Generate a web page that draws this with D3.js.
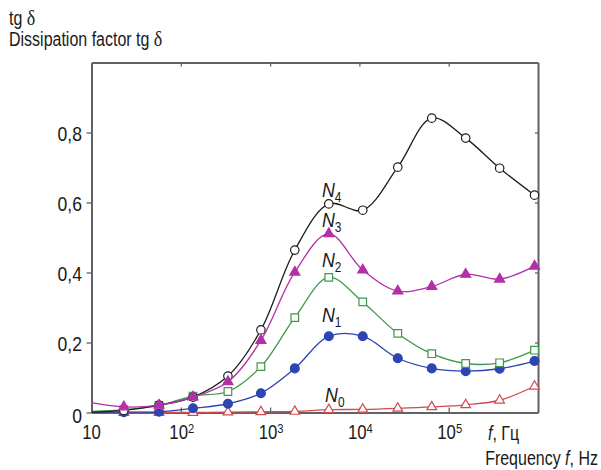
<!DOCTYPE html>
<html>
<head>
<meta charset="utf-8">
<script src="https://cdn.jsdelivr.net/npm/d3@7"></script>
<style>
  body { margin: 0; background: #fff; }
  text { font-family: "Liberation Sans", Arial, sans-serif; fill: #1a1a1a; }
  .greek { font-family: "Liberation Serif", "DejaVu Serif", serif; }
</style>
</head>
<body>
<div class="chart"></div>
<script>
(function(){
    // frequency points (Hz); the first one is only where the curves start, it has no marker
    var freq = [10, 23, 57, 137, 337, 789, 1890, 4540, 10900, 26900, 64600, 155000, 372000, 914000];

    // tg delta for each sample
    var n0 = [0.000, 0.000, 0.000, 0.000, 0.001, 0.002, 0.003, 0.008, 0.009, 0.012, 0.016, 0.022, 0.035, 0.075];
    var n1 = [0.001, 0.001, 0.002, 0.012, 0.025, 0.055, 0.126, 0.218, 0.218, 0.155, 0.126, 0.118, 0.125, 0.147];
    var n2 = [0.003, 0.008, 0.020, 0.047, 0.060, 0.131, 0.271, 0.386, 0.316, 0.226, 0.168, 0.140, 0.142, 0.178];
    var n3 = [0.028, 0.016, 0.021, 0.044, 0.088, 0.206, 0.401, 0.511, 0.407, 0.347, 0.360, 0.395, 0.381, 0.418];
    var n4 = [0.001, 0.006, 0.021, 0.044, 0.104, 0.236, 0.464, 0.596, 0.578, 0.701, 0.841, 0.784, 0.698, 0.621];

    var seriesNames = ["N0", "N1", "N2", "N3", "N4"];

    // where the N labels sit, in data units (Hz, tg delta)
    var labelFreq = [5300, 4900, 4900, 4900, 4900];
    var labelVal  = [0.030, 0.258, 0.415, 0.530, 0.616];

    var xTicks = [10, 100, 1000, 10000, 100000];
    var xTickExp = ["", "2", "3", "4", "5"];
    var yTicks = [0, 0.2, 0.4, 0.6, 0.8];

    var width = 601, height = 470;
    var left = 91.5, right = 538, top = 62.5, bottom = 412.5;

    var svg = d3.select(".chart").append("svg")
        .attr("width", width)
        .attr("height", height);

    var x = d3.scaleLog().domain([10, 1e6]).range([left, right]);
    var y = d3.scaleLinear().domain([0, 1]).range([bottom, top]);

    var frameColor = "#5f6366";

    // the figure uses a condensed face, so squeeze the text a little
    function label(px, py, size, sx, anchor){
        return svg.append("text")
            .attr("transform", "translate(" + px + "," + py + ") scale(" + sx + ",1)")
            .attr("font-size", size)
            .attr("text-anchor", anchor || "start");
    }

    var yFmt = function(d){ return d === 0 ? "0" : d3.format(".1f")(d).replace(".", ","); };

    // frame: outer ticks on the left, inner ticks elsewhere
    var gLeft = svg.append("g")
        .attr("transform", "translate(" + left + ",0)")
        .call(d3.axisLeft(y).tickValues(yTicks).tickSize(5).tickSizeOuter(0).tickFormat(""));

    var gRight = svg.append("g")
        .attr("transform", "translate(" + right + ",0)")
        .call(d3.axisLeft(y).tickValues(yTicks).tickSize(3).tickSizeOuter(0).tickFormat(""));

    var gTop = svg.append("g")
        .attr("transform", "translate(0," + top + ")")
        .call(d3.axisBottom(x).tickValues(xTicks.slice(1)).tickSize(4).tickSizeOuter(0).tickFormat(""));

    var gBottom = svg.append("g")
        .attr("transform", "translate(0," + bottom + ")")
        .call(d3.axisTop(x).tickValues(xTicks.slice(1)).tickSize(5).tickSizeOuter(0).tickFormat(""));

    [gLeft, gRight, gTop, gBottom].forEach(function(g){
        g.select(".domain").attr("stroke", frameColor).attr("stroke-width", 2);
        g.selectAll(".tick line").attr("stroke", frameColor).attr("stroke-width", 1.3);
    });

    // y tick labels
    yTicks.forEach(function(d){
        label(82, y(d) + (d === 0 ? 10 : 8), 19.5, 0.9, "end").text(yFmt(d));
    });

    // x tick labels: 10, 10^2 ... 10^5
    xTicks.forEach(function(d, i){
        var t = label(x(d) + (i ? 1 : 0), 439, 19.5, 0.86, "middle");
        t.append("tspan").text("10");
        t.append("tspan").attr("font-size", 13).attr("dy", -6).text(xTickExp[i]);
    });

    // series
    var all = [n0, n1, n2, n4, n3];
    var order = [0, 1, 2, 4, 3];
    var colors = ["#d14a4e", "#2d45b3", "#3d9a48", "#b42fa8", "#1e1e1e"];
    var shapes = [d3.symbolTriangle, d3.symbolCircle, d3.symbolSquare, d3.symbolTriangle, d3.symbolCircle];
    var shapeSize = [40, 62, 58, 44, 56];
    var filled = [false, true, false, true, false];

    var line = d3.line()
        .x(function(d, i){ return x(freq[i]); })
        .y(function(d){ return y(d); })
        .curve(d3.curveCatmullRom.alpha(0.5));

    order.forEach(function(k, j){
        var vals = all[j];
        var g = svg.append("g");
        g.append("path")
            .attr("d", line(vals))
            .attr("fill", "none")
            .attr("stroke", colors[k])
            .attr("stroke-width", 1.3);
        var pts = vals.map(function(v, i){ return {f: freq[i], v: v}; }).slice(1);
        g.selectAll("path.pt").data(pts).enter()
            .append("path")
            .attr("class", "pt")
            .attr("transform", function(d){ return "translate(" + x(d.f) + "," + y(d.v) + ")"; })
            .attr("d", d3.symbol().type(shapes[k]).size(shapeSize[k]))
            .attr("fill", filled[k] ? colors[k] : "#fff")
            .attr("stroke", colors[k])
            .attr("stroke-width", 1.2);
    });

    // N labels
    seriesNames.forEach(function(d, i){
        var t = label(x(labelFreq[i]), y(labelVal[i]), 21, 0.85, "middle");
        t.append("tspan").attr("font-style", "italic").text("N");
        t.append("tspan").attr("font-size", 14).attr("dy", 5).text(d.slice(1));
    });

    // axis titles
    var t1 = label(9, 25, 19.5, 0.82);
    t1.append("tspan").text("tg ");
    t1.append("tspan").attr("class", "greek").attr("font-size", 22).text("\u03b4");
    var t2 = label(9, 46, 19.5, 0.82);
    t2.append("tspan").text("Dissipation factor tg ");
    t2.append("tspan").attr("class", "greek").attr("font-size", 22).text("\u03b4");

    var fr = label(488, 440, 19.5, 0.82);
    fr.append("tspan").attr("font-style", "italic").text("f");
    fr.append("tspan").text(", \u0413\u0446");

    var fe = label(598, 465, 19.5, 0.82, "end");
    fe.append("tspan").text("Frequency ");
    fe.append("tspan").attr("font-style", "italic").text("f");
    fe.append("tspan").text(", Hz");
}());
</script>
</body>
</html>
